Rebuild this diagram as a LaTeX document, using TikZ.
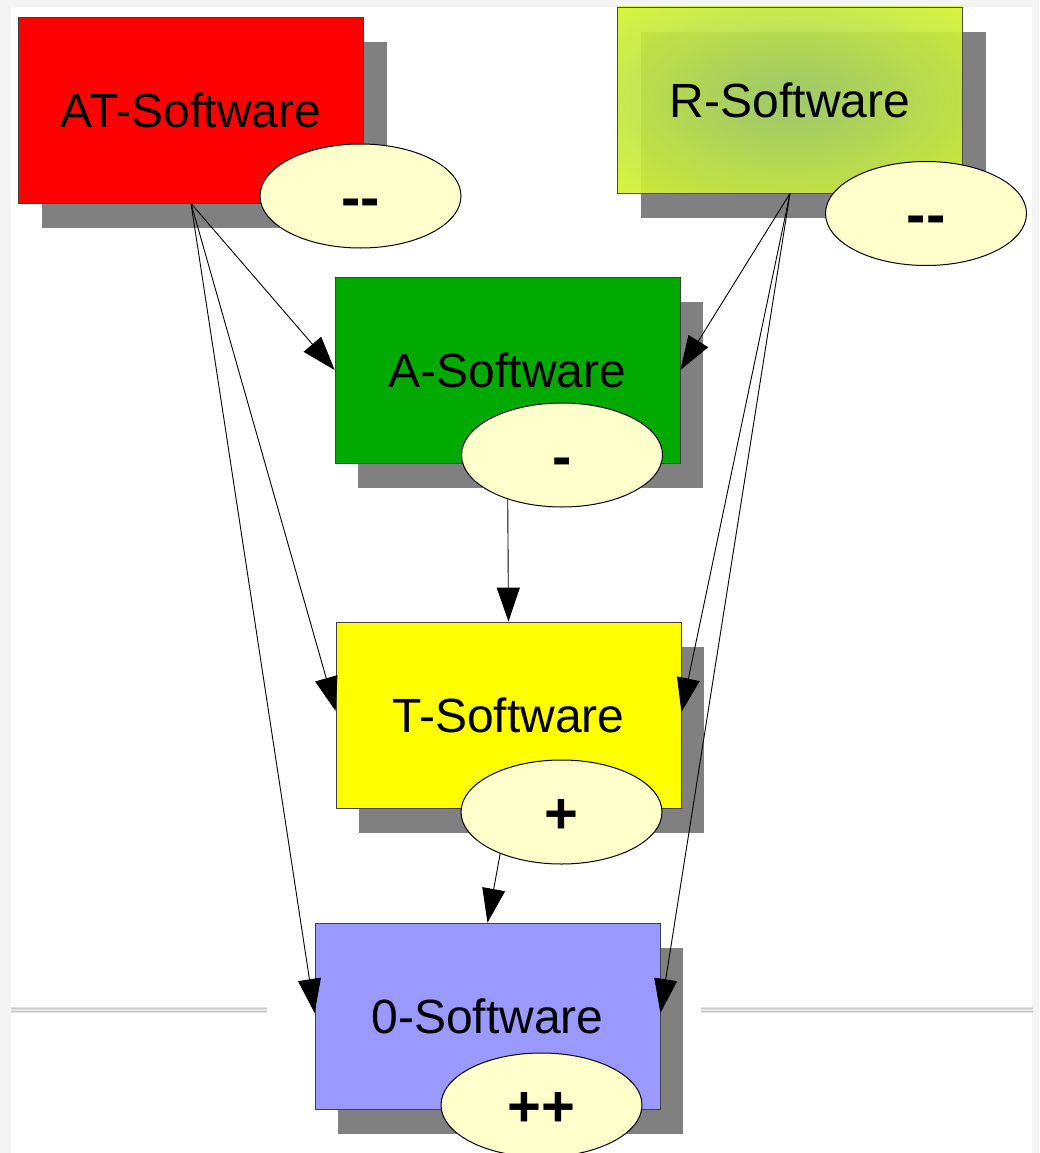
\documentclass[tikz,border=0pt]{standalone}
\usepackage{fontspec}
\setmainfont{Liberation Sans}
\usetikzlibrary{shapes.geometric,arrows.meta,shadows}
\definecolor{boxred}{RGB}{255,0,0}
\definecolor{boxgreen}{RGB}{0,170,0}
\definecolor{boxyellow}{RGB}{255,255,0}
\definecolor{boxblue}{RGB}{153,153,255}
\definecolor{cream}{RGB}{255,255,204}
\definecolor{shadowgray}{RGB}{128,128,128}
\definecolor{edgegray}{RGB}{244,244,244}
\definecolor{rulegray}{RGB}{200,200,200}
\definecolor{rulelight}{RGB}{228,228,228}
\pgfdeclareradialshading{rsoft}{\pgfpoint{0bp}{0bp}}{rgb(0bp)=(0.64,0.82,0.40); rgb(6bp)=(0.66,0.83,0.38); rgb(46bp)=(0.90,1.0,0.12); rgb(50bp)=(0.91,1.0,0.10)}
\tikzset{
  swbox/.style={draw=black!75, line width=0.8pt, minimum width=345pt, minimum height=186pt,
    inner sep=0pt, font=\fontsize{48}{56}\selectfont,
    drop shadow={shadow xshift=23pt, shadow yshift=-25pt, fill=shadowgray, opacity=1, draw=none}},
  rating/.style={ellipse, draw=black, line width=1pt, fill=cream, minimum width=201pt,
    minimum height=104pt, inner sep=0pt, font=\fontsize{58}{60}\selectfont\bfseries,
    text height=42pt, text depth=0pt},
  conn/.style={line width=0.9pt, -{Triangle[length=34pt,width=23pt]}}
}
\begin{document}
\begin{tikzpicture}[x=1pt,y=-1pt]
\useasboundingbox (0,0) rectangle (1039,1153);
\clip (0,0) rectangle (1039,1153);
% background with faint screen edges
\fill[edgegray] (0,0) rectangle (1039,1153);
\fill[white] (11,7) rectangle (1032,1153);
% horizontal gray rules
\fill[rulelight] (11,1007) rectangle (267,1013);
\draw[rulegray, line width=1.2pt] (11,1008.5) -- (267,1008.5) (11,1011.5) -- (267,1011.5);
\fill[rulelight] (701,1007) rectangle (1033,1013);
\draw[rulegray, line width=1.2pt] (701,1008.5) -- (1033,1008.5) (701,1011.5) -- (1033,1011.5);
% boxes
\node[swbox, fill=boxred] (AT) at (191,110) {AT-Software};
\node[swbox, draw=black!60!olive, shade, shading=rsoft, fill opacity=0.92] (R) at (790,100) {};
\node at (R.center) {\fontsize{48}{56}\selectfont R-Software};
\node[swbox, fill=boxgreen] (A) at (507.5,370) {A-Software};
\node[swbox, fill=boxyellow] (T) at (508.5,715) {T-Software};
\node[swbox, fill=boxblue] (O) at (487.5,1016) {0-Software};
% connectors
\draw[conn] (AT.south) -- (A.west);
\draw[conn] (AT.south) -- ([yshift=4pt]T.west);
\draw[conn] (AT.south) -- ([yshift=3pt]O.west);
\draw[conn] (R.south) -- (A.east);
\draw[conn] (R.south) -- ([yshift=3pt]T.east);
\draw[conn] (R.south) -- ([yshift=3pt]O.east);
\draw[conn] (A.south) -- (T.north);
\draw[conn] (T.south) -- (O.north);
% ratings
\node[rating] (ATe) at (360.5,196) {-{}-};
\node[rating] (Re) at (926,213.5) {-{}-};
\node[rating] (Ae) at (562,455) {-};
\node[rating] (Te) at (561.5,812) {+};
\node[rating] (Oe) at (541.5,1105) {++};
\end{tikzpicture}
\end{document}
